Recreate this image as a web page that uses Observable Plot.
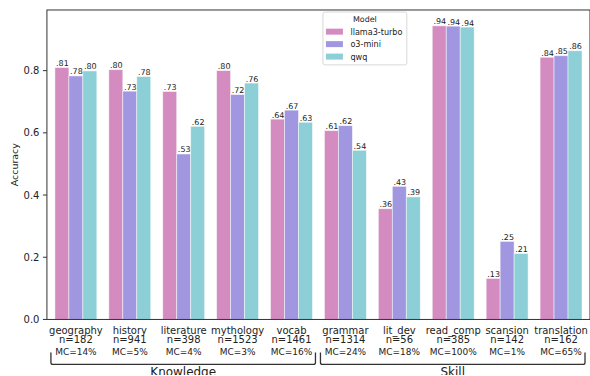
<!DOCTYPE html>
<html>
<head>
<meta charset="utf-8">
<script src="https://cdn.jsdelivr.net/npm/d3@7"></script>
<script src="https://cdn.jsdelivr.net/npm/@observablehq/plot@0.6"></script>
<style>
  html, body { margin: 0; padding: 0; background: white; overflow: hidden; }
  svg { display: block; }
</style>
</head>
<body>
<div id="chart"></div>
<script>
const categories = ["geography", "history", "literature", "mythology", "vocab",
                    "grammar", "lit_dev", "read_comp", "scansion", "translation"];
const groupOf = ["Knowledge", "Knowledge", "Knowledge", "Knowledge", "Knowledge",
                 "Skill", "Skill", "Skill", "Skill", "Skill"];
const groups = ["Knowledge", "Skill"];
const counts = [182, 941, 398, 1523, 1461, 1314, 56, 385, 142, 162];
const mcShare = [14, 5, 4, 3, 16, 24, 18, 100, 1, 65];
const models = ["llama3-turbo", "o3-mini", "qwq"];
const colors = ["#d38bc0", "#a197e0", "#8dcfd6"];
const llama = [0.810, 0.803, 0.733, 0.800, 0.644, 0.607, 0.356, 0.944, 0.132, 0.843];
const o3mini = [0.783, 0.734, 0.532, 0.723, 0.673, 0.623, 0.428, 0.943, 0.251, 0.848];
const qwq = [0.799, 0.781, 0.621, 0.760, 0.634, 0.544, 0.394, 0.940, 0.212, 0.864];
const yTicks = [0, 0.2, 0.4, 0.6, 0.8];

const series = [llama, o3mini, qwq];
const rows = [];
categories.forEach((c, i) => models.forEach((m, j) => rows.push({cat: c, model: m, value: series[j][i]})));
const catRows = categories.map((c, i) => ({cat: c, n: counts[i], mc: mcShare[i], group: groupOf[i]}));
const fmt = v => d3.format(".2f")(v).replace(/^0/, "");

const W = 591, H = 376, mL = 47, mR = 0, mT = 10, mB = 56;

const plot = Plot.plot({
  width: W, height: H,
  marginTop: mT, marginBottom: mB, marginLeft: mL, marginRight: mR,
  style: {fontFamily: "DejaVu Sans", fontSize: "9px", color: "#222", background: "white"},
  fx: {domain: categories, paddingInner: 0.2, paddingOuter: 0.1, axis: null, label: null},
  x: {domain: models, padding: 0, axis: null},
  y: {domain: [0, 0.995], axis: null},
  color: {domain: models, range: colors},
  marks: [
    Plot.barY(rows, {fx: "cat", x: "model", y: "value", fill: "model",
                     stroke: "white", strokeOpacity: 0.6, strokeWidth: 0.8}),
    Plot.text(rows, {fx: "cat", x: "model", y: "value", text: d => fmt(d.value),
                     dy: -2, lineAnchor: "bottom", fontSize: 8, fill: "#222"}),
    Plot.text(catRows, {fx: "cat", frameAnchor: "bottom", text: d => `${d.cat}\nn=${d.n}`,
                        lineAnchor: "top", dy: 8, lineHeight: 0.9, fontSize: 10, fill: "#222"}),
    Plot.text(catRows, {fx: "cat", frameAnchor: "bottom", text: d => `MC=${d.mc}%`,
                        lineAnchor: "top", dy: 29, fontSize: 9, fill: "#222"})
  ]
});

document.getElementById("chart").appendChild(plot);

const svg = d3.select(plot);
const ys = plot.scale("y");
const fxs = plot.scale("fx");
const yTop = Math.min(...ys.range), yBot = Math.max(...ys.range);
const xLeft = mL, xRight = W - mR;

// y axis ticks and labels from the plot's y scale
const yAxis = svg.append("g");
yTicks.forEach(t => {
  const yy = ys.apply(t);
  yAxis.append("line").attr("x1", xLeft - 4).attr("x2", xLeft).attr("y1", yy).attr("y2", yy)
    .attr("stroke", "#333").attr("stroke-width", 1);
  yAxis.append("text").attr("x", xLeft - 7.5).attr("y", yy).attr("dy", "0.35em")
    .attr("text-anchor", "end").attr("font-size", 10).attr("fill", "#222")
    .text(d3.format(".1f")(t));
});

// y axis title
svg.append("text")
  .attr("transform", `translate(${xLeft - 32},${(yTop + yBot) / 2}) rotate(-90)`)
  .attr("text-anchor", "middle").attr("dy", "0.35em")
  .attr("font-size", 9.5).attr("fill", "#222")
  .text("Accuracy");

// frame (spines)
svg.append("rect")
  .attr("x", xLeft).attr("y", yTop)
  .attr("width", xRight - xLeft).attr("height", yBot - yTop)
  .attr("fill", "none").attr("stroke", "#333").attr("stroke-width", 1);

// group brackets
const step = fxs.apply(categories[1]) - fxs.apply(categories[0]);
const bw = fxs.bandwidth;
const gap = (step - bw) / 2;
const pad = 2.5;
const bTop = yBot + 33, bBot = yBot + 45, r = 2;
groups.forEach(g => {
  const cs = catRows.filter(d => d.group === g);
  const x0 = fxs.apply(cs[0].cat) - gap + pad;
  const x1 = fxs.apply(cs[cs.length - 1].cat) + bw + gap - pad;
  svg.append("path")
    .attr("d", `M${x0},${bTop}V${bBot - r}Q${x0},${bBot} ${x0 + r},${bBot}H${x1 - r}Q${x1},${bBot} ${x1},${bBot - r}V${bTop}`)
    .attr("fill", "none").attr("stroke", "#333").attr("stroke-width", 1.3);
  svg.append("text")
    .attr("x", (x0 + x1) / 2).attr("y", bBot + 12)
    .attr("text-anchor", "middle")
    .attr("font-size", 12).attr("fill", "#222")
    .text(g);
});

// legend
const lg = svg.append("g").attr("transform", "translate(323.5,12)");
lg.append("rect").attr("width", 84).attr("height", 53).attr("rx", 2)
  .attr("fill", "white").attr("fill-opacity", 0.85)
  .attr("stroke", "#d8d8d8").attr("stroke-width", 1);
lg.append("text").attr("x", 42).attr("y", 10).attr("text-anchor", "middle")
  .attr("font-size", 8).attr("fill", "#222").text("Model");
models.forEach((m, i) => {
  const cy = 19.7 + i * 12.5;
  lg.append("rect").attr("x", 3).attr("y", cy - 3).attr("width", 17).attr("height", 6)
    .attr("fill", colors[i]);
  lg.append("text").attr("x", 27.5).attr("y", cy + 3).attr("text-anchor", "start")
    .attr("font-size", 8.1).attr("fill", "#222").text(m);
});
</script>
</body>
</html>
